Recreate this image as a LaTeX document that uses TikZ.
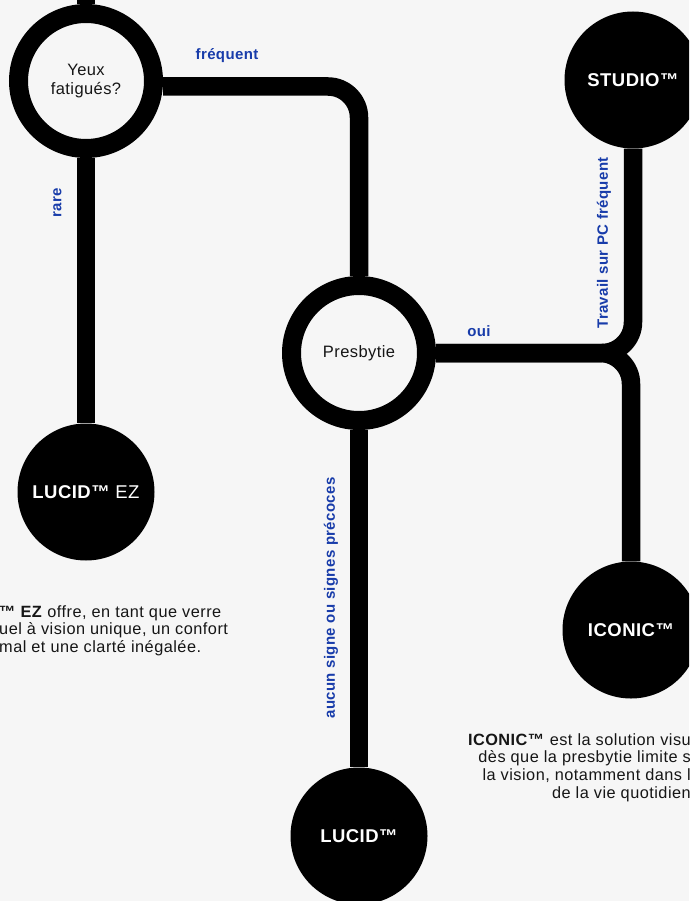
\documentclass[tikz,border=0pt]{standalone}
\usepackage{fontspec}
\setmainfont{Liberation Sans}[LetterSpace=2.5]
\newfontfamily\blurbfont{Liberation Sans}[LetterSpace=3]
\usepackage{tikz}
\usetikzlibrary{positioning}
\definecolor{pagegray}{RGB}{246,246,246}
\definecolor{pathblue}{RGB}{24,60,170}
\definecolor{inkgray}{RGB}{22,22,22}
\tikzset{
  track/.style={line width=18.5pt, rounded corners=31pt},
  ringq/.style={circle, draw=black, line width=19pt, fill=pagegray, minimum size=135pt, inner sep=0pt, align=center, text=inkgray, font=\fontsize{16.5}{19}\selectfont},
  lens/.style={circle, fill=black, minimum size=137pt, inner sep=0pt, text=white, font=\fontsize{18.5}{22}\selectfont\bfseries},
  branchlabel/.style={text=pathblue, inner sep=0pt, font=\fontsize{15}{18}\selectfont\bfseries},
  blurb/.style={inner sep=0pt, text=inkgray, font=\blurbfont\fontsize{16.3}{17.8}\selectfont}
}

\begin{document}
\begin{tikzpicture}[x=1pt, y=-1pt]
  \useasboundingbox (0,0) rectangle (689,901);
  \clip (0,0) rectangle (689,901);
  \fill[pagegray] (0,0) rectangle (689,901);
  \node[ringq] (yeux) at (86,81) {Yeux\\fatigués?};
  \node[ringq] (presb) at (359,353) {Presbytie};
  \node[lens] (studio) at (633,80) {STUDIO™};
  \node[lens] (lucidez) at (86,492) {LUCID™ \mdseries EZ};
  \node[lens] (iconic) at (631,630) {ICONIC™};
  \node[lens] (lucid) at (359,836) {LUCID™};
  \coordinate (entry) at (86,-15);
  \draw[track] (entry) -- (yeux.north);
  \draw[track] ([yshift=-5.5pt]yeux.east) -| (presb.north);
  \draw[track] (yeux.south) -- (lucidez.north);
  \draw[track] (presb.east) -| (studio.south);
  \draw[track] (presb.east) -| (iconic.north);
  \draw[track] (presb.south) -- (lucid.north);
  \node[branchlabel] (freq) at (227,56) {fréquent};
  \node[branchlabel, rotate=90] (rare) at (57.5,203) {rare};
  \node[branchlabel] (oui) at (479,331) {oui};
  \node[branchlabel, rotate=90] (pcwork) at (604,243) {Travail sur PC fréquent};
  \node[branchlabel, rotate=90] (nosign) at (331,598) {aucun signe ou signes précoces};
  \node[blurb, anchor=north west, align=left] (ezinfo) at (-1,605) {\textbf{™ EZ} offre, en tant que verre\\uel à vision unique, un confort\\mal et une clarté inégalée.};
  \node[blurb, anchor=north east, align=right] (iconicinfo) at (691,733) {\textbf{ICONIC™} est la solution visu\\dès que la presbytie limite s\\la vision, notamment dans l\\de la vie quotidien};
\end{tikzpicture}
\end{document}
